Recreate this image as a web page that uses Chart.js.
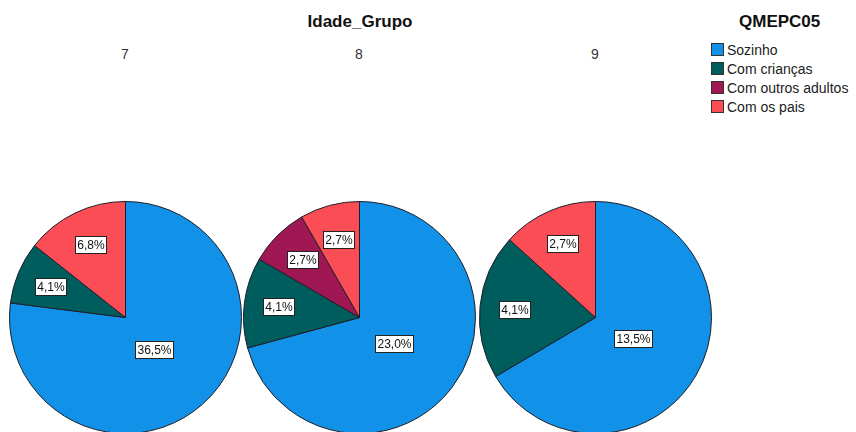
<!DOCTYPE html>
<html>
<head>
<meta charset="utf-8">
<script src="https://cdn.jsdelivr.net/npm/chart.js@4.4.1/dist/chart.umd.min.js"></script>
<style>
  body { margin: 0; width: 856px; height: 432px; overflow: hidden; background: #fff; font-family: Arial, "Liberation Sans", sans-serif; position: relative; }
  .pie { position: absolute; }
  #title { position: absolute; left: 260px; width: 200px; top: 12px; text-align: center; font-weight: bold; font-size: 17px; color: #111; }
  .group { position: absolute; top: 46px; width: 40px; text-align: center; font-size: 14px; color: #333; }
  #legend { position: absolute; left: 711px; top: 12px; }
  #legend h4 { margin: 0 0 8px 28px; font-size: 17px; color: #111; }
  .item { height: 19px; display: flex; align-items: center; font-size: 14px; color: #222; white-space: nowrap; }
  .sw { width: 13px; height: 13px; border: 1px solid #333; margin-right: 3px; box-sizing: border-box; }
</style>
</head>
<body>
<div id="title">Idade_Grupo</div>
<div id="legend"><h4>QMEPC05</h4></div>

<script>
// groups (Idade_Grupo) and categories (QMEPC05)
const groups = ['7', '8', '9']
const categories = ['Sozinho', 'Com crianças', 'Com outros adultos', 'Com os pais']
const colors = ['#1192e8', '#005d5d', '#9f1853', '#fa4d56']

// percent of total, one value per group
const sozinho = [36.5, 23.0, 13.5]
const comCriancas = [4.1, 4.1, 4.1]
const comOutrosAdultos = [0, 2.7, 0]
const comOsPais = [6.8, 2.7, 2.7]

const centersX = [125, 359, 595]
const centerY = 317
const size = 233

const legend = document.getElementById('legend')
categories.forEach((c, i) => {
    const row = document.createElement('div')
    row.className = 'item'
    row.innerHTML = `<span class="sw" style="background:${colors[i]}"></span>${c}`
    legend.appendChild(row)
})

// white boxed percentage labels
const boxLabels = {
    id: 'boxLabels',
    afterDatasetsDraw(chart) {
        const ctx = chart.ctx
        const ds = chart.data.datasets[0]
        chart.getDatasetMeta(0).data.forEach((arc, i) => {
            const v = ds.data[i]
            if (!v) return
            const span = arc.endAngle - arc.startAngle
            const mid = (arc.startAngle + arc.endAngle) / 2
            const r = arc.outerRadius * (span > Math.PI ? 0.37 : 0.7)
            const x = arc.x + Math.cos(mid) * r
            const y = arc.y + Math.sin(mid) * r
            const txt = v.toFixed(1).replace('.', ',') + '%'
            ctx.save()
            ctx.font = '12px Arial, "Liberation Sans", sans-serif'
            const w = Math.round(ctx.measureText(txt).width + 4)
            const h = 17
            const bx = Math.round(x - w / 2) + 0.5
            const by = Math.round(y - h / 2) + 0.5
            ctx.fillStyle = '#fff'
            ctx.fillRect(bx, by, w, h)
            ctx.strokeStyle = '#222'
            ctx.lineWidth = 1
            ctx.strokeRect(bx, by, w, h)
            ctx.fillStyle = '#111'
            ctx.textAlign = 'center'
            ctx.textBaseline = 'middle'
            ctx.fillText(txt, bx + w / 2, by + h / 2 + 1)
            ctx.restore()
        })
    }
}

groups.forEach((g, gi) => {
    const lab = document.createElement('div')
    lab.className = 'group'
    lab.style.left = (centersX[gi] - 20) + 'px'
    lab.textContent = g
    document.body.appendChild(lab)

    const canvas = document.createElement('canvas')
    canvas.className = 'pie'
    canvas.width = size
    canvas.height = size
    canvas.style.left = (centersX[gi] - size / 2) + 'px'
    canvas.style.top = (centerY - size / 2) + 'px'
    document.body.appendChild(canvas)

    new Chart(canvas, {
        type: 'pie',
        data: {
            labels: categories,
            datasets: [{
                data: [sozinho[gi], comCriancas[gi], comOutrosAdultos[gi], comOsPais[gi]],
                backgroundColor: colors,
                borderColor: '#1e1e28',
                borderWidth: 1
            }]
        },
        options: {
            responsive: false,
            animation: false,
            layout: { padding: 0 },
            plugins: { legend: { display: false }, tooltip: { enabled: false } }
        },
        plugins: [boxLabels]
    })
})
</script>
</body>
</html>
